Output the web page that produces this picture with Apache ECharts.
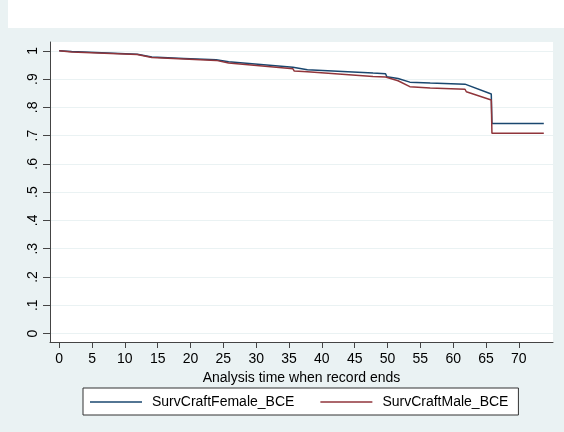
<!DOCTYPE html>
<html>
<head>
<meta charset="utf-8">
<script src="https://cdn.jsdelivr.net/npm/echarts@6/dist/echarts.min.js"></script>
<style>
html,body{margin:0;padding:0;background:#eaf2f3;}
#chart{width:564px;height:432px;}
</style>
</head>
<body>
<div id="chart"></div>
<script>
// Analysis time ticks and survival ticks
var xTicks = [0,5,10,15,20,25,30,35,40,45,50,55,60,65,70];
var yTicks = [0,0.1,0.2,0.3,0.4,0.5,0.6,0.7,0.8,0.9,1];

// SurvCraftFemale_BCE: [time, survival]
var femaleTime = [0,1.9,11.9,12.1,14.1,19,23.9,24.1,25.8,26,35.6,35.8,37.8,38,47.8,49.7,49.9,51.6,51.8,53.4,56.5,61.8,62,65.8,65.9,73.8];
var femaleSurv = [1.0,0.997,0.988,0.983,0.978,0.973,0.968,0.963,0.961,0.957,0.942,0.935,0.933,0.930,0.921,0.919,0.908,0.902,0.896,0.889,0.886,0.882,0.876,0.847,0.743,0.743];

// SurvCraftMale_BCE: [time, survival]
var maleTime = [0,1.9,11.9,12.1,14.1,19,23.9,24.1,25.8,26,35.6,35.8,37.8,38,47.8,49.7,49.9,51.6,51.8,53.4,56.5,61.8,62,65.8,65.9,73.8];
var maleSurv = [1.0,0.996,0.987,0.981,0.976,0.971,0.966,0.960,0.957,0.953,0.936,0.928,0.926,0.923,0.909,0.907,0.900,0.894,0.888,0.873,0.868,0.864,0.855,0.826,0.708,0.708];

function zip(a,b){var r=[];for(var i=0;i<a.length;i++){r.push([a[i],b[i]]);}return r;}

var chart = echarts.init(document.getElementById('chart'), null, {renderer:'canvas'});
var font = 'Liberation Sans, Arial, Helvetica, sans-serif';
chart.setOption({
  backgroundColor:'#eaf2f3',
  animation:false,
  graphic:[{type:'rect',shape:{x:8,y:0,width:556,height:28},style:{fill:'#ffffff'},silent:true,z:-10}],
  grid:{left:50,right:11,top:42,bottom:90,show:true,backgroundColor:'#ffffff',borderWidth:0},
  xAxis:{
    type:'value',min:-1.4,max:75.2,
    axisLine:{show:true,onZero:false,lineStyle:{color:'#444',width:1}},
    axisTick:{show:true,length:6,customValues:xTicks,lineStyle:{color:'#444'}},
    axisLabel:{customValues:xTicks,margin:10,color:'#000',fontSize:14,fontFamily:font},
    splitLine:{show:false},
    name:'Analysis time when record ends',nameLocation:'middle',nameGap:24,
    nameTextStyle:{color:'#000',fontSize:14,fontFamily:font}
  },
  yAxis:{
    type:'value',min:-0.03,max:1.031,
    axisLine:{show:true,onZero:false,lineStyle:{color:'#444',width:1}},
    axisTick:{show:true,length:7,customValues:yTicks,lineStyle:{color:'#444'}},
    axisLabel:{customValues:yTicks,rotate:90,margin:10,color:'#000',fontSize:14,fontFamily:font,
      formatter:function(v){ if(Math.abs(v)<1e-9) return '0'; if(Math.abs(v-1)<1e-9) return '1'; return '.'+Math.round(v*10);} },
    splitLine:{show:true,lineStyle:{color:'#eaf2f3',width:1}}
  },
  legend:{
    left:83,top:388,
    padding:[6,10,5,7],
    itemWidth:52,itemHeight:1.5,itemGap:26,icon:'rect',
    backgroundColor:'#ffffff',borderColor:'#333',borderWidth:1,borderRadius:0,
    textStyle:{color:'#000',fontSize:14,fontFamily:font,padding:[1,0,0,5],lineHeight:15},
    data:['SurvCraftFemale_BCE','SurvCraftMale_BCE']
  },
  series:[
    {name:'SurvCraftFemale_BCE',type:'line',data:zip(femaleTime,femaleSurv),symbol:'none',
      lineStyle:{color:'#1a476f',width:1.5},itemStyle:{color:'#1a476f'}},
    {name:'SurvCraftMale_BCE',type:'line',data:zip(maleTime,maleSurv),symbol:'none',
      lineStyle:{color:'#90353b',width:1.5},itemStyle:{color:'#90353b'}}
  ]
});
</script>
</body>
</html>
